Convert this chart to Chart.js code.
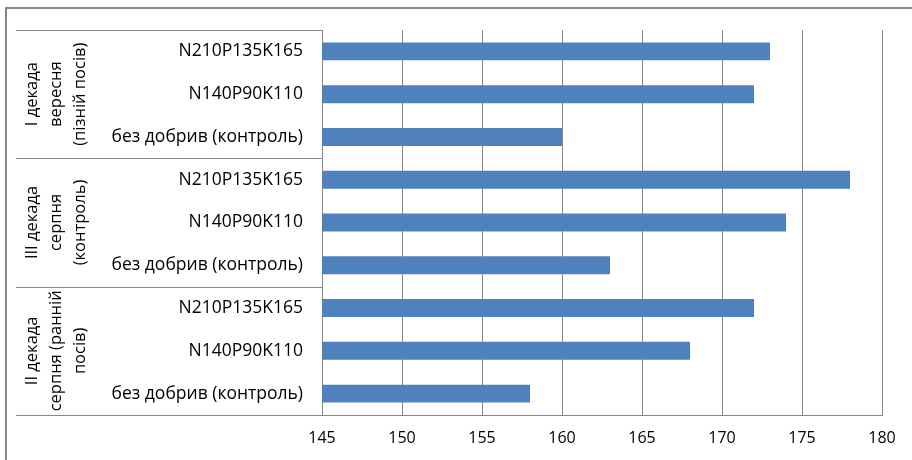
<!DOCTYPE html>
<html>
<head>
<meta charset="utf-8">
<script src="https://cdn.jsdelivr.net/npm/chart.js@4"></script>
<style>
  html, body { margin: 0; padding: 0; background: #fff; }
  #wrap { width: 912px; height: 460px; position: relative; }
</style>
</head>
<body>
<div id="wrap"><canvas id="myChart" width="912" height="460"></canvas></div>
<script>
const groupLabels = [
    ['I декада', 'вересня', '(пізній посів)'],
    ['III декада', 'серпня', '(контроль)'],
    ['II декада', 'серпня (ранній', 'посів)']
]
const categories = [
    'N210P135K165', 'N140P90K110', 'без добрив (контроль)',
    'N210P135K165', 'N140P90K110', 'без добрив (контроль)',
    'N210P135K165', 'N140P90K110', 'без добрив (контроль)'
]
const values = [173, 172, 160, 178, 174, 163, 172, 168, 158]
const xMin = 145
const xMax = 180
const xStep = 5

const FONT = '"Open Sans", "Liberation Sans", sans-serif'
const GRID = '#878787'

// draws the outer frame, the label table lines and the rotated group names
const tablePlugin = {
    id: 'tablePlugin',
    afterDraw(chart) {
        const ctx = chart.ctx
        const y = chart.scales.y
        const area = chart.chartArea
        const perGroup = categories.length / groupLabels.length
        const left = 16
        ctx.save()
        ctx.strokeStyle = GRID
        ctx.lineWidth = 2
        ctx.beginPath()
        ctx.moveTo(6, 470)
        ctx.lineTo(6, 8)
        ctx.lineTo(920, 8)
        ctx.stroke()

        ctx.lineWidth = 1
        const edges = [area.top]
        for (let g = 1; g < groupLabels.length; g++) {
            const a = y.getPixelForValue(g * perGroup - 1)
            const b = y.getPixelForValue(g * perGroup)
            edges.push((a + b) / 2)
        }
        edges.push(area.bottom)
        ctx.beginPath()
        edges.forEach(e => {
            const yy = Math.round(e) + 0.5
            ctx.moveTo(left, yy)
            ctx.lineTo(area.left, yy)
        })
        ctx.stroke()

        ctx.fillStyle = '#000'
        ctx.font = '16.5px ' + FONT
        ctx.textAlign = 'center'
        ctx.textBaseline = 'middle'
        const lineH = 24
        groupLabels.forEach((lines, g) => {
            const cy = (edges[g] + edges[g + 1]) / 2
            const cx = 56
            ctx.save()
            ctx.translate(cx, cy)
            ctx.rotate(-Math.PI / 2)
            lines.forEach((t, i) => {
                ctx.fillText(t, 0, (i - (lines.length - 1) / 2) * lineH)
            })
            ctx.restore()
        })
        ctx.restore()
    }
}

new Chart(document.getElementById('myChart'), {
    type: 'bar',
    data: {
        labels: categories,
        datasets: [{
            data: values,
            backgroundColor: '#4f81bd',
            borderWidth: 0,
            barPercentage: 0.42,
            categoryPercentage: 1
        }]
    },
    options: {
        indexAxis: 'y',
        responsive: false,
        animation: false,
        layout: { padding: { top: 30, right: 30, bottom: 0, left: 0 } },
        plugins: {
            legend: { display: false },
            tooltip: { enabled: false }
        },
        scales: {
            x: {
                min: xMin,
                max: xMax,
                ticks: {
                    stepSize: xStep,
                    color: '#000',
                    font: { family: FONT, size: 16 },
                    padding: 14
                },
                grid: { color: GRID, drawTicks: false },
                border: { color: GRID },
                afterFit(scale) { scale.height = 45 }
            },
            y: {
                ticks: {
                    color: '#000',
                    font: { family: FONT, size: 17.5 },
                    padding: 19
                },
                grid: { display: false, drawTicks: false },
                border: { color: GRID },
                afterFit(scale) { scale.width = 322 }
            }
        }
    },
    plugins: [tablePlugin]
})
</script>
</body>
</html>
